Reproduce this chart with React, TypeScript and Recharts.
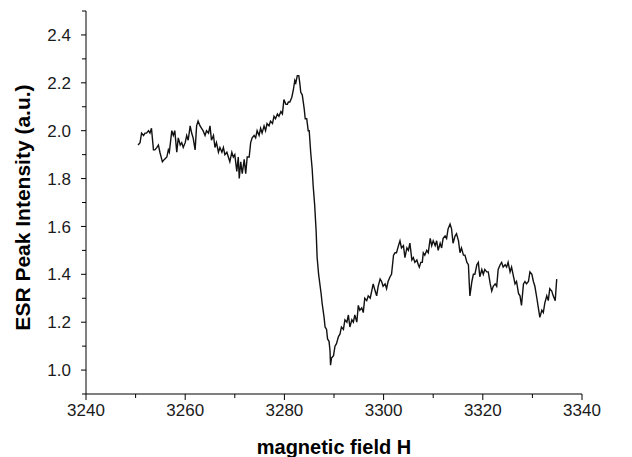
import React from "react";
import { LineChart, Line, XAxis, YAxis } from "recharts";

const field: number[] = [
  3250.5, 3250.9, 3251.2, 3251.6, 3251.9, 3252.2, 3252.6, 3252.9, 3253.2, 3253.6,
  3253.9, 3254.3, 3254.6, 3254.9, 3255.4, 3255.8, 3256.3, 3256.6, 3256.8, 3257.3,
  3257.6, 3257.9, 3258.3, 3258.6, 3259.0, 3259.3, 3259.6, 3260.0, 3260.3, 3260.6,
  3261.0, 3261.3, 3261.6, 3262.0, 3262.3, 3262.6, 3263.0, 3263.3, 3263.6, 3264.0,
  3264.3, 3264.7, 3265.0, 3265.3, 3265.7, 3266.0, 3266.3, 3266.7, 3267.0, 3267.4,
  3267.7, 3268.0, 3268.4, 3268.7, 3269.0, 3269.4, 3269.7, 3270.0, 3270.4, 3270.7,
  3270.9, 3271.2, 3271.5, 3271.9, 3272.2, 3272.5, 3272.9, 3273.2, 3273.5, 3273.9,
  3274.2, 3274.5, 3274.9, 3275.2, 3275.5, 3275.9, 3276.2, 3276.5, 3276.9, 3277.2,
  3277.6, 3277.9, 3278.2, 3278.6, 3278.9, 3279.3, 3279.6, 3279.9, 3280.3, 3280.6,
  3280.8, 3281.1, 3281.5, 3281.8, 3282.1, 3282.3, 3282.6, 3282.9, 3283.1, 3283.3,
  3283.6, 3283.8, 3284.0, 3284.2, 3284.5, 3284.8, 3285.0, 3285.3, 3285.6, 3285.8,
  3286.1, 3286.4, 3286.6, 3286.9, 3287.4, 3287.6, 3288.0, 3288.2, 3288.5, 3288.7,
  3289.0, 3289.2, 3289.3, 3289.5, 3289.9, 3290.2, 3290.5, 3290.9, 3291.2, 3291.5,
  3291.9, 3292.2, 3292.6, 3292.9, 3293.2, 3293.6, 3293.9, 3294.2, 3294.6, 3294.9,
  3295.2, 3295.6, 3295.9, 3296.2, 3296.6, 3296.9, 3297.3, 3297.6, 3297.9, 3298.3,
  3298.6, 3298.9, 3299.3, 3299.6, 3299.9, 3300.3, 3300.6, 3300.9, 3301.3, 3301.6,
  3302.0, 3302.3, 3302.6, 3303.0, 3303.3, 3303.6, 3304.0, 3304.3, 3304.7, 3305.0,
  3305.3, 3305.7, 3306.0, 3306.3, 3306.7, 3307.0, 3307.2, 3307.5, 3307.8, 3308.0,
  3308.3, 3308.7, 3309.0, 3309.4, 3309.7, 3310.0, 3310.4, 3310.7, 3311.0, 3311.4,
  3311.7, 3312.0, 3312.4, 3312.7, 3313.0, 3313.4, 3313.7, 3314.0, 3314.4, 3314.7,
  3315.1, 3315.4, 3315.7, 3316.1, 3316.4, 3316.8, 3317.1, 3317.3, 3317.4, 3317.8,
  3318.1, 3318.4, 3318.8, 3319.1, 3319.4, 3319.8, 3320.1, 3320.4, 3320.8, 3321.1,
  3321.5, 3321.8, 3322.1, 3322.5, 3322.8, 3323.1, 3323.5, 3323.8, 3324.1, 3324.5,
  3324.8, 3325.1, 3325.5, 3325.8, 3326.1, 3326.5, 3326.8, 3327.2, 3327.5, 3327.8,
  3328.2, 3328.5, 3328.8, 3329.2, 3329.5, 3329.9, 3330.2, 3330.5, 3330.9, 3331.2,
  3331.5, 3331.9, 3332.2, 3332.5, 3332.9, 3333.2, 3333.5, 3333.9, 3334.2, 3334.6,
  3334.9,
];

const intensity: number[] = [
  1.94, 1.95, 1.99, 1.98, 1.99, 1.99, 2.0, 1.99, 2.01, 1.92,
  1.92, 1.93, 1.94, 1.91, 1.87, 1.88, 1.89, 1.92, 1.91, 2.0,
  1.98, 2.0, 1.91, 1.97, 1.94, 1.95, 1.93, 1.95, 1.98, 1.96,
  2.02, 1.99, 1.97, 1.92, 2.02, 2.04, 2.02, 2.01, 2.0, 1.98,
  2.0, 1.99, 2.02, 1.96, 1.98, 1.93, 1.95, 1.91, 1.93, 1.91,
  1.93, 1.9, 1.91, 1.89, 1.87, 1.91, 1.89, 1.9, 1.83, 1.89,
  1.8, 1.87, 1.82, 1.88, 1.82, 1.89, 1.89, 1.95, 1.97, 1.98,
  1.97, 2.0, 1.98, 2.01, 1.99, 2.02, 2.0, 2.03, 2.02, 2.04,
  2.03, 2.06, 2.05, 2.07, 2.06, 2.08, 2.07, 2.13, 2.11, 2.11,
  2.12, 2.12, 2.14, 2.17, 2.21, 2.2, 2.23, 2.23, 2.2, 2.16,
  2.15, 2.12, 2.09, 2.05, 2.05, 2.0, 2.0, 1.91, 1.84, 1.77,
  1.69, 1.58, 1.47, 1.4, 1.32, 1.28, 1.22, 1.18, 1.17, 1.13,
  1.12, 1.08, 1.02, 1.05, 1.06, 1.1, 1.11, 1.14, 1.15, 1.18,
  1.17, 1.21, 1.2, 1.23, 1.18, 1.21, 1.2, 1.23, 1.2, 1.27,
  1.25, 1.26, 1.24, 1.3, 1.29, 1.31, 1.3, 1.33, 1.36, 1.33,
  1.31, 1.35, 1.38, 1.37, 1.35, 1.36, 1.34, 1.37, 1.39, 1.4,
  1.48, 1.49, 1.49, 1.52, 1.54, 1.51, 1.52, 1.47, 1.51, 1.5,
  1.53, 1.46, 1.47, 1.45, 1.46, 1.44, 1.43, 1.45, 1.45, 1.49,
  1.48, 1.5, 1.49, 1.55, 1.52, 1.54, 1.52, 1.54, 1.5, 1.53,
  1.51, 1.55, 1.56, 1.55, 1.59, 1.61, 1.59, 1.53, 1.56, 1.57,
  1.54, 1.49, 1.51, 1.48, 1.48, 1.45, 1.44, 1.35, 1.31, 1.37,
  1.4, 1.4, 1.44, 1.45, 1.39, 1.42, 1.4, 1.42, 1.41, 1.41,
  1.36, 1.33, 1.35, 1.36, 1.35, 1.42, 1.44, 1.45, 1.43, 1.44,
  1.43, 1.45, 1.41, 1.43, 1.4, 1.36, 1.37, 1.32, 1.31, 1.27,
  1.36, 1.37, 1.36, 1.37, 1.41, 1.4, 1.37, 1.35, 1.3, 1.26,
  1.22, 1.25, 1.24, 1.28, 1.31, 1.29, 1.34, 1.33, 1.31, 1.29,
  1.38,
];

const xTicks: number[] = [3240, 3250, 3260, 3270, 3280, 3290, 3300, 3310, 3320, 3330, 3340];
const xLabelTicks: number[] = [3240, 3260, 3280, 3300, 3320, 3340];
const yTicks: number[] = [0.9, 1.0, 1.1, 1.2, 1.3, 1.4, 1.5, 1.6, 1.7, 1.8, 1.9, 2.0, 2.1, 2.2, 2.3, 2.4, 2.5];
const yLabelTicks: string[] = ["1.0", "1.2", "1.4", "1.6", "1.8", "2.0", "2.2", "2.4"];

const xTitle = "magnetic field H";
const yTitle = "ESR Peak Intensity (a.u.)";

const data = field.map((h, i) => ({ h, v: intensity[i] }));

const FONT = "'Liberation Sans', Arial, Helvetica, sans-serif";

const XTick = (props: any) => {
  const { x, y, payload } = props;
  const val = payload.value as number;
  const major = xLabelTicks.includes(val);
  return (
    <g>
      <line x1={x} x2={x} y1={y} y2={y + (major ? 6 : 4)} stroke="#000" strokeWidth={1} />
      {major && (
        <text x={x} y={y + 22} textAnchor="middle" fontSize={17} fontFamily={FONT} fill="#1a1a1a">
          {val}
        </text>
      )}
    </g>
  );
};

const YTick = (props: any) => {
  const { x, y, payload } = props;
  const val = payload.value as number;
  const label = val.toFixed(1);
  const major = yLabelTicks.includes(label);
  return (
    <g>
      <line x1={x} x2={x - (major ? 5 : 4)} y1={y} y2={y} stroke="#000" strokeWidth={1} />
      {major && (
        <text x={x - 15} y={y} dy="0.36em" textAnchor="end" fontSize={17} fontFamily={FONT} fill="#1a1a1a">
          {label}
        </text>
      )}
    </g>
  );
};

const XTitle = (props: any) => {
  const vb = props.viewBox;
  return (
    <text x={vb.x + vb.width / 2} y={vb.y + 60} textAnchor="middle" fontSize={20} fontWeight="bold" fontFamily={FONT} fill="#000">
      {xTitle}
    </text>
  );
};

const YTitle = (props: any) => {
  const vb = props.viewBox;
  const cx = 14;
  const cy = vb.y + vb.height / 2 + 5;
  return (
    <text x={cx} y={cy} dy="0.36em" textAnchor="middle" fontSize={21} fontWeight="bold" fontFamily={FONT} fill="#000" transform={`rotate(-90, ${cx}, ${cy})`}>
      {yTitle}
    </text>
  );
};

export default function App() {
  return (
    <div style={{ width: 616, height: 449, background: "#fff" }}>
      <LineChart width={616} height={449} data={data} margin={{ top: 3, right: 42, left: 0, bottom: 0 }}>
        <XAxis
          dataKey="h"
          type="number"
          domain={[3240, 3340]}
          ticks={xTicks}
          interval={0}
          tickSize={0}
          tickMargin={0}
          tick={<XTick />}
          axisLine={{ stroke: "#000", strokeWidth: 1 }}
          tickLine={false}
          height={63}
          label={<XTitle />}
          allowDataOverflow
        />
        <YAxis
          type="number"
          domain={[0.9, 2.5]}
          ticks={yTicks}
          interval={0}
          tickSize={0}
          tickMargin={0}
          tick={<YTick />}
          axisLine={{ stroke: "#000", strokeWidth: 1 }}
          tickLine={false}
          width={78}
          label={<YTitle />}
          allowDataOverflow
        />
        <Line
          dataKey="v"
          type="linear"
          stroke="#111"
          strokeWidth={1.4}
          dot={false}
          isAnimationActive={false}
        />
      </LineChart>
    </div>
  );
}
